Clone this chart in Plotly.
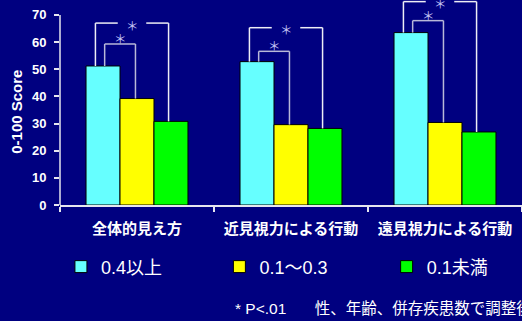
import plotly.graph_objects as go

# Categories and scores (0-100) by visual acuity group
categories = ["全体的見え方", "近見視力による行動", "遠見視力による行動"]
series_names = ["0.4以上", "0.1〜0.3", "0.1未満"]
score_04_plus = [51.2, 52.8, 63.5]
score_01_03 = [39.2, 29.6, 30.4]
score_below_01 = [30.8, 28.2, 26.9]
y_ticks = [0, 10, 20, 30, 40, 50, 60, 70]
y_title = "0-100 Score"
footnote = "* P<.01\u3000\u00a0\u00a0\u00a0性、年齢、併存疾患数で調整後"

# Significance bracket heights (outer / inner) per category
bracket_outer = [67.0, 65.3, 74.9]
bracket_inner = [59.3, 56.6, 67.9]

BG = "#000080"
AXIS = "#E6E6EE"
colors = ["#66FFFF", "#FFFF00", "#00FF00"]
series = [score_04_plus, score_01_03, score_below_01]
legend_ids = ["legend", "legend2", "legend3"]

fig = go.Figure()
for name, vals, col, lg in zip(series_names, series, colors, legend_ids):
    fig.add_trace(go.Bar(
        x=categories, y=vals, name=name, legend=lg,
        marker=dict(color=col, line=dict(color="#000000", width=1)),
    ))

shapes = []
annotations = []
OUT_L, OUT_R, IN_L, IN_R = -0.27, 0.205, -0.21, -0.01
GAP_L, GAP_R = -0.125, 0.06
star_font = dict(size=12.5, color="#C4C4F4", family="Noto Sans CJK JP")
for i in range(len(categories)):
    c1, c2, c3 = score_04_plus[i], score_01_03[i], score_below_01[i]
    yo, yi = bracket_outer[i], bracket_inner[i]
    outer_col, inner_col = "#EDEDF5", "#B8B8D8"
    segs = [
        (i + OUT_L, c1, i + OUT_L, yo, outer_col),
        (i + OUT_L, yo, i + GAP_L, yo, outer_col),
        (i + GAP_R, yo, i + OUT_R, yo, outer_col),
        (i + OUT_R, yo, i + OUT_R, c3, outer_col),
        (i + IN_L, c1, i + IN_L, yi, inner_col),
        (i + IN_L, yi, i + IN_R, yi, inner_col),
        (i + IN_R, yi, i + IN_R, c2, inner_col),
    ]
    for x0, y0, x1, y1, col in segs:
        shapes.append(dict(type="line", xref="x", yref="y", x0=x0, y0=y0, x1=x1, y1=y1,
                           line=dict(color=col, width=1.5)))
    annotations.append(dict(x=i + (GAP_L + GAP_R) / 2, y=yo - 0.8, xref="x", yref="y", text="＊",
                            showarrow=False, font=star_font, xanchor="center", yanchor="middle"))
    annotations.append(dict(x=i + (IN_L + IN_R) / 2, y=yi + 2, xref="x", yref="y", text="＊",
                            showarrow=False, font=star_font, xanchor="center", yanchor="middle"))

# y axis line only up to 70
shapes.append(dict(type="line", xref="paper", yref="y", x0=0, x1=0, y0=0, y1=70,
                   line=dict(color=AXIS, width=1.5)))

# y axis title
annotations.append(dict(x=-0.093, y=0.455, xref="paper", yref="paper", text=y_title,
                        textangle=-90, showarrow=False, xanchor="center", yanchor="middle",
                        font=dict(size=15, color="#FFFFFF", family="Liberation Sans", weight="bold")))

annotations.append(dict(x=0.3745, y=-0.507, xref="paper", yref="paper", text=footnote,
                        showarrow=False, xanchor="left", yanchor="middle",
                        font=dict(size=15.5, color="#FFFFFF", family="Liberation Sans, Noto Sans CJK JP")))

legend_font = dict(size=18, color="#FFFFFF", family="Liberation Sans, Noto Sans CJK JP")
legend_x = [0.002, 0.345, 0.707]
legend_kw = {}
for lg, lx in zip(legend_ids, legend_x):
    legend_kw[lg] = dict(x=lx, y=-0.302, xanchor="left", yanchor="middle", orientation="h",
                         font=legend_font, bgcolor="rgba(0,0,0,0)", borderwidth=0)

fig.update_layout(
    width=522, height=321,
    margin=dict(l=60, r=0, t=0, b=116),
    paper_bgcolor=BG, plot_bgcolor=BG,
    barmode="group", bargap=0.338, bargroupgap=0,
    showlegend=True,
    shapes=shapes, annotations=annotations,
    xaxis=dict(type="category", tickson="boundaries", ticks="outside", ticklen=5,
               tickcolor=AXIS, tickwidth=1.5, showline=True, linecolor=AXIS, linewidth=1.5,
               showgrid=False, zeroline=False, ticklabelstandoff=9,
               tickfont=dict(size=15, color="#FFFFFF", family="Noto Sans CJK JP", weight="bold")),
    yaxis=dict(range=[0, 75.5], tickvals=y_ticks, ticks="outside", ticklen=5,
               tickcolor=AXIS, tickwidth=1.5, showline=False, showgrid=False, zeroline=False,
               ticklabelstandoff=5,
               tickfont=dict(size=13, color="#FFFFFF", family="Liberation Sans", weight="bold")),
    **legend_kw,
)

fig.write_html("out.html")
